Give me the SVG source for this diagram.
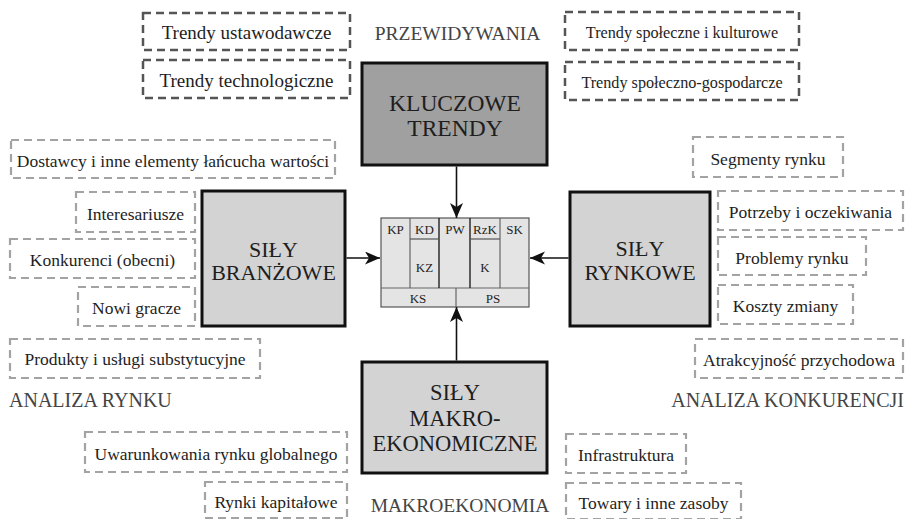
<svg xmlns="http://www.w3.org/2000/svg" width="907" height="519" viewBox="0 0 907 519">
<style>
  text { font-family: "Liberation Serif", "Times New Roman", serif; fill: #1e1e1e; }
  .lbl { font-size: 17.5px; text-anchor: middle; }
  .l19 { font-size: 19px; }
  .l16 { font-size: 16.2px; }
  .dk { fill: none; stroke: #555; stroke-width: 2.5; stroke-dasharray: 8 5; }
  .lt { fill: none; stroke: #a3a3a3; stroke-width: 2.2; stroke-dasharray: 8 5; }
  .sec { font-size: 20px; fill: #444; }
  .s195 { font-size: 19.5px; }
  .big { stroke: #111; stroke-width: 3; }
  .bigt { font-size: 22.5px; text-anchor: middle; fill: #1e1e1e; }
  .b22 { font-size: 22px; }
  .b235 { font-size: 23.5px; }
  .cv { font-size: 13px; text-anchor: middle; }
  .conn { stroke: #111; stroke-width: 1.6; fill: none; marker-end: url(#ah); }
</style>
<defs>
  <marker id="ah" markerUnits="userSpaceOnUse" markerWidth="16" markerHeight="14" refX="15" refY="6.5" orient="auto">
    <path d="M0,0 L15,6.5 L0,13 L4,6.5 Z" fill="#111"/>
  </marker>
</defs>
<rect width="907" height="519" fill="#fff"/>

<!-- section titles -->
<text class="sec s195" x="457.5" y="40" text-anchor="middle">PRZEWIDYWANIA</text>
<text class="sec" x="9" y="406.5">ANALIZA RYNKU</text>
<text class="sec" x="904" y="406.5" text-anchor="end">ANALIZA KONKURENCJI</text>
<text class="sec s195" x="460" y="512" text-anchor="middle">MAKROEKONOMIA</text>

<!-- top-left dashed -->
<g id="trendy-ustawodawcze"><rect class="dk" x="143" y="13" width="207" height="37"/><text class="lbl l19" x="246.5" y="38.5">Trendy ustawodawcze</text></g>
<g id="trendy-technologiczne"><rect class="dk" x="143" y="60" width="207" height="38"/><text class="lbl l19" x="246.5" y="87">Trendy technologiczne</text></g>
<!-- top-right dashed -->
<g id="trendy-spoleczne"><rect class="dk" x="565" y="12" width="234" height="38"/><text class="lbl l16" x="682" y="37.5">Trendy społeczne i kulturowe</text></g>
<g id="trendy-spol-gosp"><rect class="dk" x="565" y="62" width="234" height="38"/><text class="lbl l16" x="682" y="87.5">Trendy społeczno-gospodarcze</text></g>

<!-- left dashed -->
<g id="dostawcy"><rect class="lt" x="11" y="140" width="324" height="38"/><text class="lbl" x="173" y="166.7">Dostawcy i inne elementy łańcucha wartości</text></g>
<g id="interesariusze"><rect class="lt" x="76" y="192" width="119" height="40"/><text class="lbl" x="135.5" y="219.5">Interesariusze</text></g>
<g id="konkurenci"><rect class="lt" x="10" y="239" width="185" height="39"/><text class="lbl" x="102.5" y="266">Konkurenci (obecni)</text></g>
<g id="nowi-gracze"><rect class="lt" x="78" y="287" width="117" height="39"/><text class="lbl" x="136.5" y="314">Nowi gracze</text></g>
<g id="produkty"><rect class="lt" x="10" y="339" width="250" height="39"/><text class="lbl" x="135" y="365">Produkty i usługi substytucyjne</text></g>

<!-- right dashed -->
<g id="segmenty"><rect class="lt" x="693" y="137" width="150" height="40"/><text class="lbl" x="768" y="164.5">Segmenty rynku</text></g>
<g id="potrzeby"><rect class="lt" x="718" y="191" width="185" height="39"/><text class="lbl" x="810.5" y="218">Potrzeby i oczekiwania</text></g>
<g id="problemy"><rect class="lt" x="718" y="237" width="148" height="38"/><text class="lbl" x="792" y="263.5">Problemy rynku</text></g>
<g id="koszty"><rect class="lt" x="718" y="285" width="135" height="39"/><text class="lbl" x="785.5" y="312">Koszty zmiany</text></g>
<g id="atrakcyjnosc"><rect class="lt" x="695" y="339" width="208" height="39"/><text class="lbl" x="799" y="365.5">Atrakcyjność przychodowa</text></g>

<!-- bottom dashed -->
<g id="uwarunkowania"><rect class="lt" x="85" y="432" width="262" height="40"/><text class="lbl" x="216" y="459.5">Uwarunkowania rynku globalnego</text></g>
<g id="rynki-kapitalowe"><rect class="lt" x="205" y="482" width="142" height="36"/><text class="lbl" x="276" y="508">Rynki kapitałowe</text></g>
<g id="infrastruktura"><rect class="lt" x="566" y="434" width="120" height="39"/><text class="lbl" x="626" y="460.5">Infrastruktura</text></g>
<g id="towary"><rect class="lt" x="566" y="483" width="175" height="36"/><text class="lbl" x="653.5" y="509">Towary i inne zasoby</text></g>

<!-- big boxes -->
<g id="kluczowe-trendy"><rect class="big" x="362" y="63" width="185" height="102" fill="#a0a0a0"/><text class="bigt b235" x="455" y="111">KLUCZOWE</text><text class="bigt b235" x="455" y="136">TRENDY</text></g>
<g id="sily-branzowe"><rect class="big" x="202" y="191" width="143" height="135" fill="#d3d3d3"/><text class="bigt b22" x="273.5" y="256.5">SIŁY</text><text class="bigt b22" x="273.5" y="280">BRANŻOWE</text></g>
<g id="sily-rynkowe"><rect class="big" x="570" y="192" width="140" height="134" fill="#d3d3d3"/><text class="bigt b22" x="640" y="255.5">SIŁY</text><text class="bigt b22" x="640" y="279.5">RYNKOWE</text></g>
<g id="sily-makro"><rect class="big" x="362" y="362" width="185" height="111" fill="#d3d3d3"/><text class="bigt" x="455" y="399.5">SIŁY</text><text class="bigt" x="455" y="425.5">MAKRO-</text><text class="bigt" x="455" y="451">EKONOMICZNE</text></g>

<!-- center canvas -->
<g id="canvas">
  <rect x="381" y="218" width="148" height="89" fill="#e4e4e4" stroke="#555" stroke-width="1.2"/>
  <line x1="381" y1="288" x2="529" y2="288" stroke="#666" stroke-width="1.2"/>
  <line x1="410" y1="218" x2="410" y2="288" stroke="#666" stroke-width="1.2"/>
  <line x1="439" y1="218" x2="439" y2="288" stroke="#222" stroke-width="1.4"/>
  <line x1="470" y1="218" x2="470" y2="288" stroke="#222" stroke-width="1.4"/>
  <line x1="500" y1="218" x2="500" y2="288" stroke="#666" stroke-width="1.2"/>
  <line x1="410" y1="239" x2="439" y2="239" stroke="#555" stroke-width="1.2"/>
  <line x1="470" y1="239" x2="500" y2="239" stroke="#555" stroke-width="1.2"/>
  <line x1="456" y1="288" x2="456" y2="307" stroke="#666" stroke-width="1.2"/>
  <text class="cv" x="395.5" y="233.5">KP</text>
  <text class="cv" x="424.5" y="233.5">KD</text>
  <text class="cv" x="455" y="233.5">PW</text>
  <text class="cv" x="485" y="233.5">RzK</text>
  <text class="cv" x="514.5" y="233.5">SK</text>
  <text class="cv" x="424.5" y="271.5">KZ</text>
  <text class="cv" x="485" y="271.5">K</text>
  <text class="cv" x="418" y="302.5">KS</text>
  <text class="cv" x="493" y="302.5">PS</text>
</g>

<!-- connectors -->
<g id="connectors">
  <line class="conn" x1="456.5" y1="166.5" x2="456.5" y2="218"/>
  <line class="conn" x1="456.5" y1="360.5" x2="456.5" y2="307"/>
  <line class="conn" x1="346.5" y1="258" x2="380" y2="258"/>
  <line class="conn" x1="568.5" y1="258" x2="530" y2="258"/>
</g>
</svg>
